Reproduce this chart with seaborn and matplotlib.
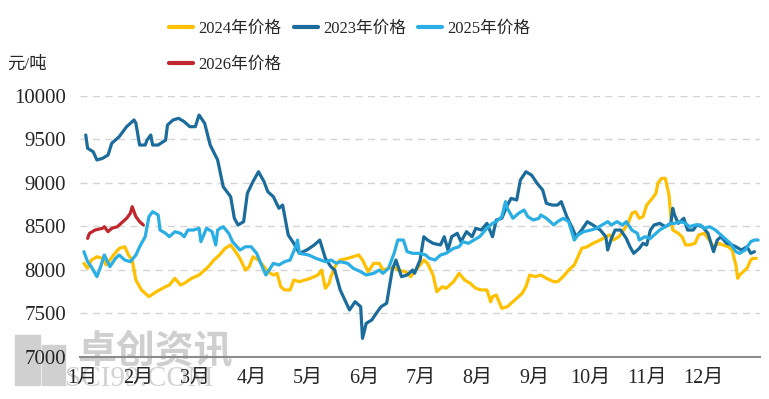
import numpy as np
import pandas as pd
import matplotlib
matplotlib.use("Agg")
import matplotlib.pyplot as plt
from matplotlib.patches import Rectangle
import seaborn as sns

# ---------------- data (day of year, price in 元/吨) ----------------
days_2023 = [2, 3, 6, 8, 11, 14, 16, 20, 24, 28, 29, 31, 34, 35, 37, 38, 41, 45, 46, 49,
             52, 55, 58, 61, 63, 66, 69, 73, 76, 80, 82, 84, 87, 89, 92, 95, 98, 100, 103, 106,
             108, 111, 114, 117, 121, 125, 128, 131, 134, 136, 139, 144, 147, 150, 151, 153, 156, 159, 161, 164,
             167, 169, 172, 175, 178, 179, 182, 184, 186, 189, 193, 195, 197, 199, 202, 204, 207, 210, 212, 215,
             218, 221, 223, 226, 229, 231, 234, 236, 239, 242, 245, 248, 250, 253, 256, 258, 259, 261, 264, 266,
             269, 272, 275, 279, 282, 283, 285, 287, 290, 293, 295, 297, 300, 302, 304, 306, 308, 311, 314, 317,
             318, 319, 321, 324, 326, 329, 331, 334, 337, 340, 342, 344, 347, 350, 352, 355, 358, 360, 362]
price_2023 = [9548, 9395, 9356, 9261, 9280, 9318, 9453, 9529, 9644, 9721, 9683, 9433, 9433, 9490, 9548, 9433, 9433, 9490, 9663, 9721,
              9740, 9701, 9644, 9644, 9778, 9683, 9433, 9261, 8954, 8839, 8591, 8514, 8552, 8878, 9011, 9126, 9011, 8897, 8839, 8706,
              8743, 8399, 8303, 8188, 8226, 8284, 8341, 8130, 8034, 7996, 7767, 7537, 7632, 7575, 7211, 7384, 7422, 7517, 7575, 7614,
              7996, 8111, 7920, 7939, 7996, 7958, 8111, 8379, 8341, 8303, 8284, 8379, 8226, 8379, 8418, 8322, 8437, 8379, 8476, 8456,
              8533, 8379, 8571, 8591, 8743, 8820, 8801, 9031, 9126, 9088, 8993, 8916, 8763, 8743, 8743, 8782, 8724, 8609, 8476, 8379,
              8456, 8552, 8514, 8456, 8379, 8226, 8360, 8456, 8456, 8360, 8264, 8188, 8245, 8303, 8284, 8456, 8514, 8533, 8494, 8533,
              8706, 8629, 8533, 8591, 8456, 8456, 8514, 8494, 8418, 8207, 8341, 8379, 8303, 8284, 8264, 8226, 8264, 8188, 8207]

days_2024 = [1, 3, 5, 8, 11, 13, 17, 20, 23, 25, 27, 29, 32, 36, 40, 45, 47, 50, 53, 55,
             59, 63, 65, 68, 71, 74, 77, 80, 82, 85, 88, 90, 92, 95, 98, 100, 103, 105, 107, 109,
             112, 114, 117, 123, 127, 129, 131, 133, 134, 137, 139, 143, 146, 149, 151, 154, 157, 160, 162, 165,
             168, 170, 174, 177, 179, 182, 184, 186, 189, 191, 194, 196, 200, 203, 206, 209, 212, 215, 218, 220,
             221, 223, 226, 229, 231, 234, 237, 239, 241, 244, 247, 250, 254, 256, 259, 262, 265, 267, 269, 272,
             275, 279, 282, 284, 286, 289, 291, 294, 296, 298, 300, 302, 304, 307, 309, 310, 312, 314, 316, 317,
             318, 321, 323, 325, 327, 330, 332, 335, 337, 340, 343, 345, 348, 350, 352, 353, 354, 356, 358, 360,
             361, 363]
price_2024 = [8073, 8016, 8111, 8149, 8130, 8054, 8169, 8245, 8264, 8169, 8111, 7881, 7767, 7690, 7747, 7805, 7824, 7901, 7824, 7843,
              7901, 7939, 7977, 8034, 8111, 8169, 8245, 8284, 8226, 8130, 7996, 8034, 8149, 8111, 8034, 7977, 7939, 7958, 7805, 7767,
              7767, 7881, 7862, 7901, 7939, 7996, 7786, 7843, 7920, 8073, 8111, 8130, 8149, 8169, 8111, 7977, 8073, 8073, 7996, 8016,
              8034, 7996, 7977, 7920, 7977, 8054, 8111, 8073, 7939, 7747, 7805, 7786, 7862, 7958, 7881, 7843, 7786, 7767, 7767, 7632,
              7690, 7709, 7556, 7575, 7614, 7671, 7729, 7805, 7939, 7920, 7939, 7901, 7862, 7862, 7920, 7996, 8054, 8149, 8245, 8264,
              8303, 8341, 8379, 8399, 8341, 8379, 8437, 8533, 8648, 8667, 8591, 8609, 8743, 8820, 8878, 8993, 9050, 9050, 8858, 8609,
              8456, 8418, 8379, 8284, 8284, 8303, 8399, 8418, 8360, 8264, 8303, 8284, 8264, 8226, 8054, 7901, 7939, 7977, 8016, 8111,
              8130, 8130]

days_2025 = [1, 3, 5, 8, 10, 12, 15, 18, 20, 23, 26, 29, 31, 34, 36, 38, 41, 42, 45, 47,
             50, 53, 55, 57, 60, 63, 64, 67, 70, 72, 73, 76, 79, 81, 85, 88, 91, 94, 97, 99,
             103, 106, 109, 112, 115, 116, 117, 122, 126, 131, 134, 137, 139, 143, 146, 150, 153, 157, 160, 162,
             165, 168, 170, 173, 175, 178, 182, 185, 187, 190, 193, 196, 200, 203, 205, 208, 211, 214, 218, 221,
             223, 226, 228, 229, 232, 235, 238, 240, 243, 246, 247, 250, 254, 256, 259, 262, 265, 267, 270, 274,
             277, 280, 283, 285, 288, 291, 293, 296, 299, 300, 303, 306, 309, 311, 314, 317, 319, 322, 325, 327,
             330, 333, 335, 338, 341, 343, 346, 349, 352, 354, 357, 360, 362, 364]
price_2025 = [8207, 8092, 8034, 7920, 8034, 8169, 8034, 8130, 8169, 8111, 8092, 8169, 8264, 8379, 8609, 8667, 8629, 8456, 8418, 8379,
              8437, 8418, 8379, 8456, 8456, 8476, 8322, 8476, 8437, 8284, 8456, 8494, 8418, 8322, 8226, 8264, 8264, 8188, 8034, 7939,
              8073, 8054, 8092, 8111, 8264, 8341, 8188, 8169, 8130, 8092, 8111, 8073, 8092, 8073, 8016, 7977, 7939, 7958, 7996, 7958,
              8016, 8188, 8341, 8341, 8207, 8188, 8188, 8169, 8130, 8111, 8169, 8188, 8245, 8264, 8322, 8303, 8341, 8379, 8476, 8533,
              8552, 8609, 8782, 8706, 8591, 8648, 8686, 8609, 8571, 8591, 8629, 8591, 8514, 8552, 8591, 8552, 8341, 8399, 8437, 8456,
              8476, 8514, 8552, 8514, 8552, 8514, 8552, 8456, 8418, 8341, 8379, 8360, 8418, 8456, 8494, 8533, 8533, 8552, 8533, 8494,
              8514, 8514, 8476, 8494, 8456, 8418, 8360, 8303, 8207, 8188, 8226, 8322, 8341, 8341]

days_2026 = [3, 4, 7, 11, 12, 14, 16, 19, 21, 24, 26, 27, 29, 31, 33]
price_2026 = [8360, 8418, 8456, 8476, 8494, 8437, 8476, 8494, 8533, 8591, 8648, 8724, 8609, 8552, 8514]

series_names = ["2024年价格", "2023年价格", "2025年价格", "2026年价格"]
series_colors = ["#FFC000", "#1B6C9B", "#2AAEE3", "#C0272D"]
month_labels = ["1月", "2月", "3月", "4月", "5月", "6月", "7月", "8月", "9月", "10月", "11月", "12月"]
y_ticks = [7000, 7500, 8000, 8500, 9000, 9500, 10000]
unit_label = "元/吨"

frames = []
for name, d, p in [("2024年价格", days_2024, price_2024),
                   ("2023年价格", days_2023, price_2023),
                   ("2025年价格", days_2025, price_2025),
                   ("2026年价格", days_2026, price_2026)]:
    frames.append(pd.DataFrame({"day": d, "price": p, "series": name}))
df = pd.concat(frames, ignore_index=True)

# ---------------- style ----------------
sns.set_style("white")
plt.rcParams["font.family"] = ["Liberation Serif", "Noto Sans CJK SC", "DejaVu Sans"]

fig = plt.figure(figsize=(7.69, 3.99), dpi=100)
ax = fig.add_axes([80 / 769, 42.3 / 399, 680 / 769, 261 / 399])
ax.patch.set_alpha(0)

sns.lineplot(data=df, x="day", y="price", hue="series", hue_order=series_names,
             palette=dict(zip(series_names, series_colors)), estimator=None,
             sort=False, linewidth=2.3, ax=ax)

ax.set_xlim(-1.1, 365)
ax.set_ylim(7000, 10000)
ax.set_yticks(y_ticks)
ax.set_yticklabels([str(v) for v in y_ticks])
ax.set_xticks(np.arange(12) * 365 / 12)
ax.set_xticklabels(month_labels)
ax.set_xlabel("")
ax.set_ylabel("")

for v in y_ticks[1:]:
    ax.axhline(v, color="#d4d4d4", lw=1.0, ls=(0, (5, 4)), zorder=0)

for s in ["left", "right", "top"]:
    ax.spines[s].set_visible(False)
ax.spines["bottom"].set_color("#8c8c8c")
ax.spines["bottom"].set_linewidth(1.5)

ax.tick_params(axis="y", length=0, pad=10, labelsize=15, labelcolor="#262626")
ax.tick_params(axis="x", length=5, width=1.2, color="#8c8c8c", direction="out",
               pad=4, labelsize=14.5, labelcolor="#262626")

# legend at figure top: rows 2024 / 2023 / 2025, then 2026
handles, labels = ax.get_legend_handles_labels()
ax.get_legend().remove()
hmap = dict(zip(labels, handles))
for h in handles:
    h.set_linewidth(3)
order = ["2024年价格", "2026年价格", "2023年价格", "2025年价格"]
fig.legend([hmap[k] for k in order], order, ncol=3, loc="upper left",
           bbox_to_anchor=(154 / 769, 1 - 6 / 399), frameon=False,
           fontsize=12, handlelength=1.45, handletextpad=0.3,
           columnspacing=0.75, labelspacing=1.2, labelcolor="#262626")

fig.text(7 / 769, 1 - 65 / 399, unit_label, fontsize=12.5, va="center", ha="left",
         color="#262626")

# watermark
fig.text(77 / 769, 1 - 351 / 399, "卓创资讯", fontsize=28, fontweight="bold",
         color="#cfcfcf", va="center", ha="left", family=["Noto Sans CJK SC"], zorder=-5)
fig.text(65 / 769, 1 - 379 / 399, "SCI99.COM", fontsize=21, color="#d2d2d2",
         va="center", ha="left", zorder=-5)
fig.patches.append(Rectangle((15 / 769, 1 - 385 / 399), 25 / 769, 50 / 399,
                             transform=fig.transFigure, color="#d0d0d0", zorder=-5))
fig.patches.append(Rectangle((42 / 769, 1 - 385 / 399), 23 / 769, 40 / 399,
                             transform=fig.transFigure, color="#d0d0d0", zorder=-5))

fig.savefig("out.png", dpi=100, facecolor="white")
